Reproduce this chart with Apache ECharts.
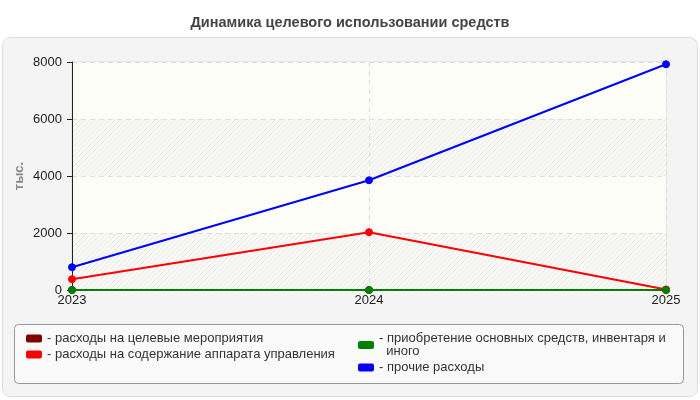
<!DOCTYPE html>
<html>
<head>
<meta charset="utf-8">
<script src="https://cdn.jsdelivr.net/npm/echarts@6/dist/echarts.min.js"></script>
<style>
  html, body { margin: 0; padding: 0; background: #fff; }
  #chart { width: 700px; height: 400px; }
</style>
</head>
<body>
<div id="chart"></div>
<script>
// values (тыс.)
const years = ['2023', '2024', '2025'];
const targetEvents = [0, 0, 0];          // расходы на целевые мероприятия
const management = [380, 2030, 20];      // расходы на содержание аппарата управления
const fixedAssets = [0, 0, 0];           // приобретение основных средств, инвентаря и иного
const otherCosts = [800, 3850, 7920];    // прочие расходы
const yTicks = { min: 0, max: 8000, interval: 2000 };

const names = [
    'расходы на целевые мероприятия',
    'расходы на содержание аппарата управления',
    'приобретение основных средств, инвентаря и иного',
    'прочие расходы',
];
const colors = ['#800000', '#ff0000', '#008000', '#0000ff'];

// subtle diagonal hatch for alternate bands
function hatch() {
    const c = document.createElement('canvas');
    c.width = 5; c.height = 5;
    const g = c.getContext('2d');
    g.fillStyle = '#fafaf6';
    g.fillRect(0, 0, 5, 5);
    g.strokeStyle = '#e6e6e4';
    g.lineWidth = 1;
    g.beginPath();
    g.moveTo(0, 5); g.lineTo(5, 0);
    g.moveTo(-1, 1); g.lineTo(1, -1);
    g.moveTo(4, 6); g.lineTo(6, 4);
    g.stroke();
    return c;
}

const chart = echarts.init(document.getElementById('chart'));

const legendText = { fontFamily: 'Liberation Sans', fontSize: 13, color: '#333', lineHeight: 13 };
const legendBase = {
    orient: 'vertical',
    icon: 'roundRect',
    itemWidth: 16,
    itemHeight: 8,
    itemGap: 3,
    textStyle: legendText,
    selectedMode: false,
};

const series = [targetEvents, management, fixedAssets, otherCosts].map((d, i) => ({
    name: names[i],
    type: 'line',
    data: d,
    symbol: 'circle',
    symbolSize: 7,
    lineStyle: { color: colors[i], width: 2 },
    itemStyle: { color: colors[i], borderColor: colors[i] },
    z: i === 2 ? 5 : 3,
}));

chart.setOption({
    animation: false,
    backgroundColor: '#fff',
    title: {
        text: 'Динамика целевого использовании средств',
        left: 'center',
        top: 10,
        textStyle: { fontFamily: 'Liberation Sans', fontSize: 14.5, fontWeight: 'bold', color: '#444' },
    },
    graphic: [
        {
            type: 'rect', z: -10, silent: true,
            shape: { x: 2.5, y: 37.5, width: 695, height: 359, r: 8 },
            style: { fill: '#f4f4f4', stroke: '#dddddd', lineWidth: 1 },
        },
        {
            type: 'rect', z: -5, silent: true,
            shape: { x: 14.5, y: 324.5, width: 669, height: 59, r: 4 },
            style: { fill: '#fafafa', stroke: '#999999', lineWidth: 1 },
        },
    ],
    legend: [
        Object.assign({}, legendBase, {
            left: 21, top: 327,
            data: [names[0], names[1]],
            formatter: n => '- ' + n,
        }),
        Object.assign({}, legendBase, {
            left: 353, top: 327,
            data: [names[2], names[3]],
            formatter: n => n === names[2]
                ? '- приобретение основных средств, инвентаря и\n  иного'
                : '- ' + n,
        }),
    ],
    grid: {
        left: 72, right: 34, top: 62, bottom: 110,
        show: true,
        backgroundColor: 'transparent',
        borderColor: '#dddddd',
        borderWidth: 1,
    },
    xAxis: {
        type: 'category',
        data: years,
        boundaryGap: false,
        axisLine: { lineStyle: { color: '#222', width: 1 } },
        axisTick: { show: true, length: 4, alignWithLabel: true, lineStyle: { color: '#222' } },
        axisLabel: { fontFamily: 'Liberation Sans', fontSize: 13, color: '#222', margin: 4 },
        splitLine: { show: true, lineStyle: { color: '#dddddd', type: [5, 4] } },
    },
    yAxis: {
        type: 'value',
        min: yTicks.min,
        max: yTicks.max,
        interval: yTicks.interval,
        name: 'тыс.',
        nameLocation: 'middle',
        nameGap: 46,
        nameMoveOverlap: false,
        nameTextStyle: { fontFamily: 'Liberation Sans', fontSize: 13, fontWeight: 'bold', color: '#888' },
        axisLine: { show: true, lineStyle: { color: '#222', width: 1 } },
        axisTick: { show: true, length: 5, lineStyle: { color: '#222' } },
        axisLabel: { fontFamily: 'Liberation Sans', fontSize: 13, color: '#222', margin: 10, formatter: v => String(v) },
        splitLine: { show: true, lineStyle: { color: '#dddddd', type: [5, 4] } },
        splitArea: {
            show: true,
            areaStyle: { color: [{ image: hatch(), repeat: 'repeat' }, '#fdfdf8'] },
        },
    },
    series: series,
});
</script>
</body>
</html>
